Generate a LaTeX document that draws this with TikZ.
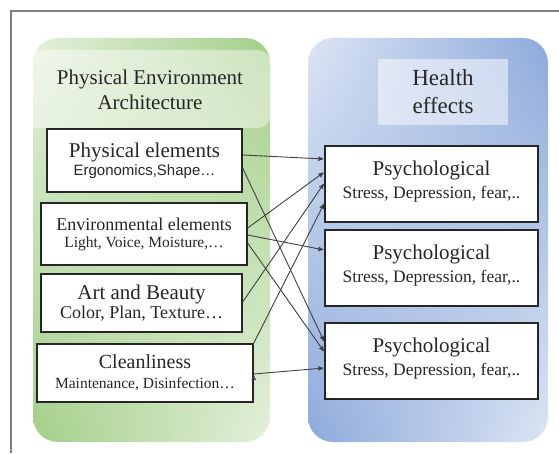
\documentclass[tikz,border=0pt]{standalone}
\usepackage{fontspec}
\setmainfont{Liberation Serif}
\setsansfont{Liberation Sans}
\usetikzlibrary{arrows,shadings}

\definecolor{greenDark}{HTML}{A3CE88}
\definecolor{greenLight}{HTML}{E4F1DC}
\definecolor{blueDark}{HTML}{8DA9DB}
\definecolor{blueLight}{HTML}{DCE5F4}

\begin{document}
\begin{tikzpicture}[x=1pt,y=-1pt,>=stealth',shorten >=1pt,
                    cause node/.style={draw=black!85,line width=1.3pt,fill=white,align=center,
                      inner sep=2pt,text=black!85},
                    effect node/.style={cause node,minimum width=213pt,minimum height=76pt},
                    link/.style={->,draw=black!75,line width=0.9pt}]
\useasboundingbox (0,0) rectangle (559,454);

% frame
\draw[black!50,line width=1.3pt] (559,11) -- (11,11) -- (11,454);

% panels
\shade[rounded corners=25pt,upper left=greenLight,upper right=greenDark,
       lower left=greenDark,lower right=greenLight] (33,38) rectangle (270,442);
\begin{scope}
  \clip[rounded corners=25pt] (33,38) rectangle (270,442);
  \fill[white,opacity=0.45,rounded corners=12pt] (20,50) rectangle (270,128);
\end{scope}
\shade[rounded corners=25pt,upper left=blueLight,upper right=blueDark,
       lower left=blueDark,lower right=blueLight] (308,38) rectangle (548,442);

\node[text=black!85,align=center,font=\fontsize{21}{25}\selectfont] (env) at (150,90)
  {Physical Environment\\Architecture};
\node[fill=white,fill opacity=0.5,text opacity=1,text=black!85,align=center,
      minimum width=130pt,minimum height=66pt,font=\fontsize{23}{28}\selectfont] (health) at (443,92)
  {Health\\effects};

% causes
\node[cause node,minimum width=195pt,minimum height=63pt] (1) at (144.5,160.5)
  {\fontsize{21}{21}\selectfont Physical elements\\[2pt]
   \fontsize{15}{17}\selectfont\sffamily Ergonomics,Shape\ldots};
\node[cause node,minimum width=206pt,minimum height=62pt] (2) at (144,234)
  {\fontsize{18}{19}\selectfont Environmental elements\\[5pt]
   \fontsize{15.5}{19}\selectfont Light, Voice, Moisture,\ldots};
\node[cause node,minimum width=201pt,minimum height=58pt] (3) at (141.5,303)
  {\fontsize{21}{21}\selectfont Art and Beauty\\[1pt]
   \fontsize{18}{20}\selectfont Color, Plan, Texture\ldots};
\node[cause node,minimum width=216pt,minimum height=58pt] (4) at (145,373)
  {\fontsize{20}{20}\selectfont Cleanliness\\[8pt]
   \fontsize{15.5}{22}\selectfont Maintenance, Disinfection\ldots};

% effects
\node[effect node] (5) at (431.5,184)
  {\fontsize{21}{21}\selectfont Psychological\\[5pt]
   \fontsize{17.5}{22}\selectfont Stress, Depression, fear,..\\[-3pt]\mbox{}};
\node[effect node] (6) at (431.5,268)
  {\fontsize{21}{21}\selectfont Psychological\\[5pt]
   \fontsize{17.5}{22}\selectfont Stress, Depression, fear,..\\[-3pt]\mbox{}};
\node[effect node] (7) at (431.5,361)
  {\fontsize{21}{21}\selectfont Psychological\\[5pt]
   \fontsize{17.5}{22}\selectfont Stress, Depression, fear,..\\[-3pt]\mbox{}};

\path[link]
  ([yshift=5.5pt]1.east)  edge ([yshift=25pt]5.west)
  ([yshift=-7.5pt]1.east) edge ([yshift=19pt]7.west)
  ([yshift=6pt]2.east)    edge ([yshift=12pt]5.west)
  ([yshift=-1pt]2.east)   edge ([yshift=18pt]6.west)
  ([yshift=-9pt]2.east)   edge ([yshift=9pt]7.west)
  ([yshift=1pt]3.east)    edge ([yshift=1pt]5.west)
  (4.north east)          edge ([yshift=-19pt]5.west)
  ([yshift=-1pt]4.east)   edge ([yshift=-7pt]7.west);
\end{tikzpicture}
\end{document}
